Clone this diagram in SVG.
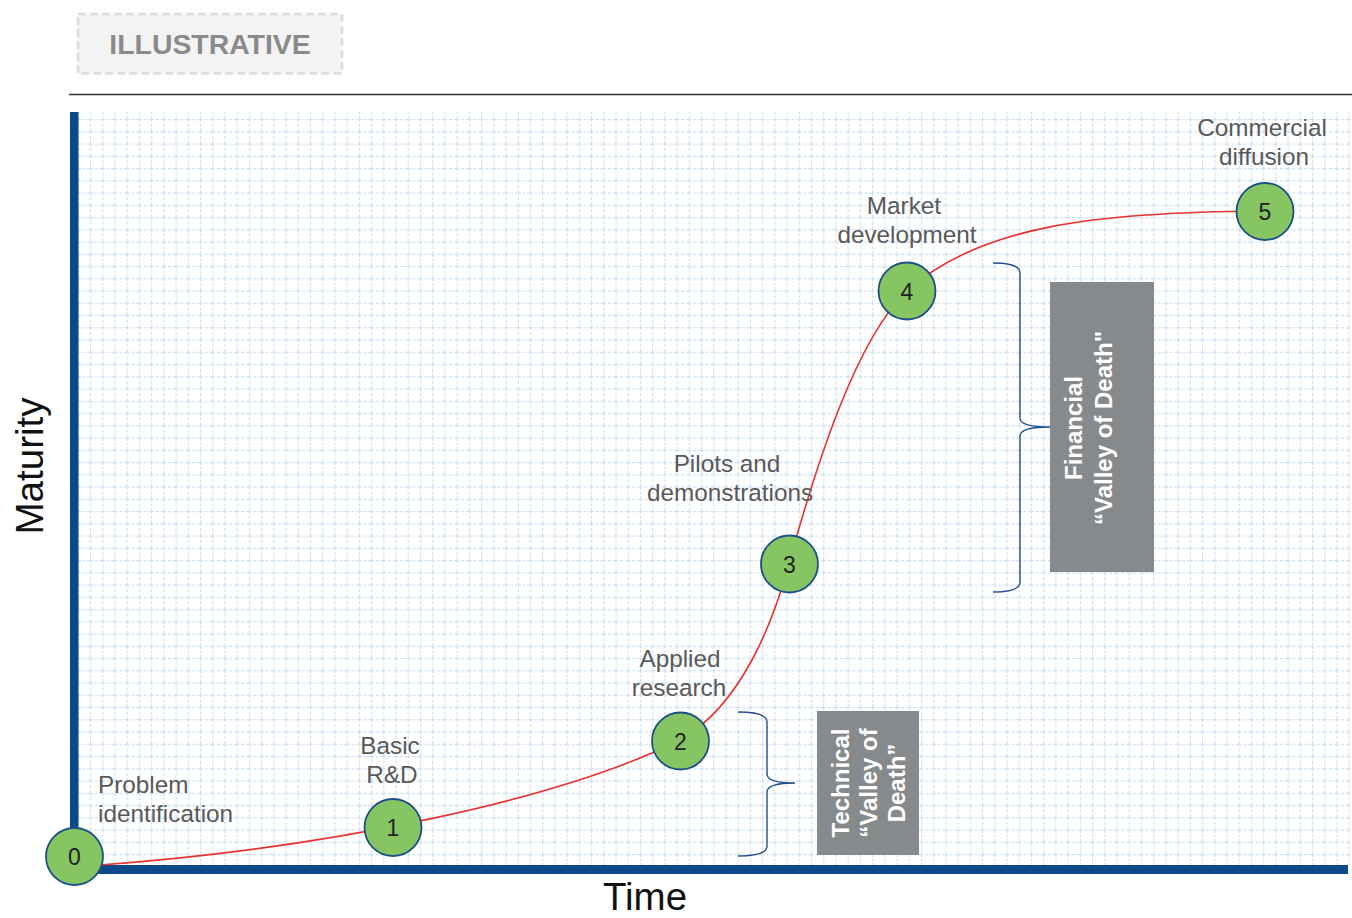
<svg xmlns="http://www.w3.org/2000/svg" width="1352" height="918" viewBox="0 0 1352 918">
  <style>
    .lbl { font-family: "Liberation Sans", Arial, sans-serif; font-size: 24.3px; fill: #595959; text-anchor: middle; }
    .num { font-family: "Liberation Sans", Arial, sans-serif; font-size: 23px; fill: #222; text-anchor: middle; }
    .node { fill: #86c562; stroke: #1b4f88; stroke-width: 1.8; }
    .axis { fill: #0b4a88; }
    .brace { fill: none; stroke: #1f4f8c; stroke-width: 1.4; }
    .vbox { fill: #878a8d; }
    .vtxt { font-family: "Liberation Sans", Arial, sans-serif; font-size: 24px; font-weight: bold; fill: #ffffff; text-anchor: middle; }
    .big { font-family: "Liberation Sans", Arial, sans-serif; font-size: 38.5px; fill: #111; text-anchor: middle; }
  </style>
  <defs>
    <pattern id="grid" patternUnits="userSpaceOnUse" x="77.8" y="106.75" width="12.22" height="12.25">
      <line x1="0" y1="0.5" x2="12.22" y2="0.5" stroke="#cddff1" stroke-width="1.2" stroke-dasharray="3 1.6"/>
      <line x1="0.5" y1="0" x2="0.5" y2="12.25" stroke="#cddff1" stroke-width="1.2" stroke-dasharray="3 1.6"/>
    </pattern>
  </defs>
  <rect width="1352" height="918" fill="#ffffff"/>

  <g id="illustrative">
    <rect x="78" y="14" width="264" height="59.5" fill="#f3f3f3" stroke="#dcdcdc" stroke-width="2.5" stroke-dasharray="8 4"/>
    <text x="210" y="53.5" font-family="'Liberation Sans', Arial, sans-serif" font-size="28.4" font-weight="bold" fill="#8a8a8a" text-anchor="middle">ILLUSTRATIVE</text>
  </g>
  <line x1="69" y1="94.5" x2="1352" y2="94.5" stroke="#333" stroke-width="1.3"/>

  <g id="grid-area">
    <rect x="78" y="112" width="1272" height="753" fill="url(#grid)"/>
  </g>

  <g id="axes">
    <rect class="axis" x="70" y="112" width="8.5" height="762"/>
    <rect class="axis" x="70" y="865" width="1278" height="9"/>
    <text class="big" transform="translate(43,466) rotate(-90)">Maturity</text>
    <text class="big" x="645" y="909.5">Time</text>
  </g>

  <g id="connectors">
    <path d="M100,865 C330,848 560,800 680,740 C742,705 774,620 789,563 C815,470 855,340 907,291 C980,225 1100,212 1264,211" fill="none" stroke="#e8322f" stroke-width="1.6"/>
    <path class="brace" d="M738,712 Q767,712 767,722 L767,774 Q767,783 795,783 Q767,783 767,792 L767,846 Q767,856 738,856"/>
    <path class="brace" d="M993,263 Q1020,263 1020,273 L1020,418 Q1020,427 1050,427 Q1020,427 1020,436 L1020,582 Q1020,592 993,592"/>
  </g>

  <g id="node0">
    <circle class="node" cx="74.5" cy="856.5" r="28.5"/>
    <text class="num" x="74.5" y="865">0</text>
    <text class="lbl" x="98" y="793" style="text-anchor:start">Problem</text>
    <text class="lbl" x="98" y="821.5" style="text-anchor:start">identification</text>
  </g>
  <g id="node1">
    <circle class="node" cx="393" cy="827.5" r="28.5"/>
    <text class="num" x="393" y="836">1</text>
    <text class="lbl" x="390" y="754">Basic</text>
    <text class="lbl" x="392" y="782.5">R&amp;D</text>
  </g>
  <g id="node2">
    <circle class="node" cx="680.5" cy="741" r="28.5"/>
    <text class="num" x="680.5" y="749.5">2</text>
    <text class="lbl" x="680" y="667">Applied</text>
    <text class="lbl" x="679" y="695.5">research</text>
  </g>
  <g id="node3">
    <circle class="node" cx="789.5" cy="564" r="28.5"/>
    <text class="num" x="789.5" y="572.5">3</text>
    <text class="lbl" x="727" y="472">Pilots and</text>
    <text class="lbl" x="730" y="500.5">demonstrations</text>
  </g>
  <g id="node4">
    <circle class="node" cx="907" cy="291" r="28.5"/>
    <text class="num" x="907" y="299.5">4</text>
    <text class="lbl" x="904" y="214">Market</text>
    <text class="lbl" x="907" y="243">development</text>
  </g>
  <g id="node5">
    <circle class="node" cx="1265" cy="211.5" r="28.5"/>
    <text class="num" x="1265" y="220">5</text>
    <text class="lbl" x="1262" y="136">Commercial</text>
    <text class="lbl" x="1264" y="165">diffusion</text>
  </g>

  <g id="technical-valley">
    <rect class="vbox" x="817" y="711" width="102" height="144"/>
    <g transform="translate(868,783) rotate(-90)">
      <text class="vtxt" x="0" y="-19">Technical</text>
      <text class="vtxt" x="0" y="9">“Valley of</text>
      <text class="vtxt" x="0" y="37">Death”</text>
    </g>
  </g>
  <g id="financial-valley">
    <rect class="vbox" x="1050" y="282" width="104" height="290"/>
    <g transform="translate(1102,428) rotate(-90)">
      <text class="vtxt" x="0" y="-20">Financial</text>
      <text class="vtxt" x="0" y="10">“Valley of Death"</text>
    </g>
  </g>
</svg>
